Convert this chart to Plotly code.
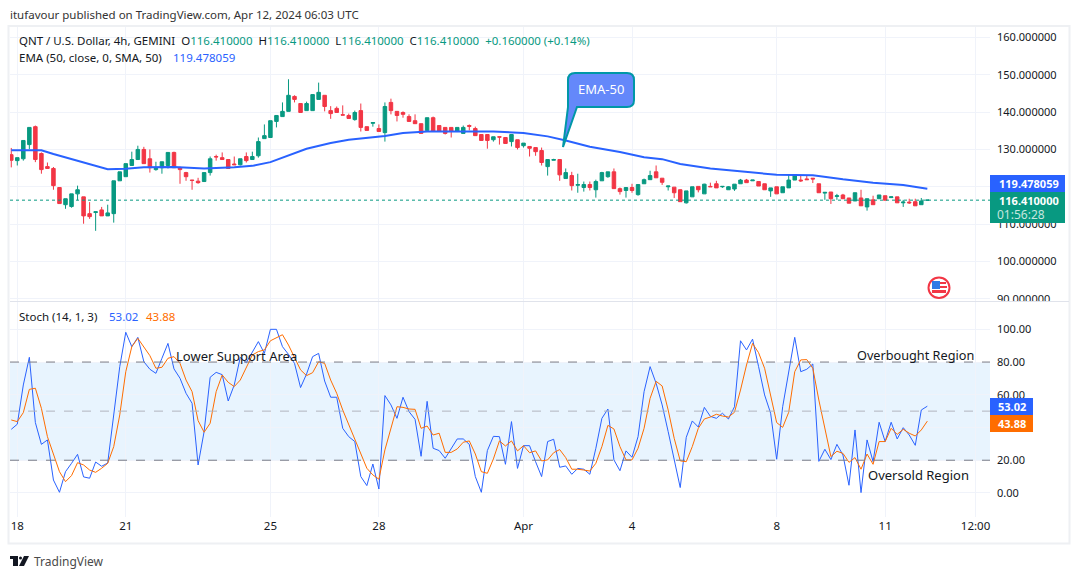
# QNT / USD 4h chart with EMA-50 and stochastic pane
import plotly.graph_objects as go
from plotly.subplots import make_subplots

W = 1080
H = 579

open_prices = [
    128.6, 127.0, 127.5, 131.3, 136.1, 128.9, 125.4, 124.9, 119.8, 115.2,
    114.7, 118.1, 117.3, 112.8, 113.1, 113.8, 112.2, 112.8, 121.6, 122.7,
    125.7, 127.3, 130.0, 127.5, 124.6, 125.1, 125.7, 129.2, 125.1, 123.8,
    121.8, 121.5, 121.4, 123.8, 128.1, 127.8, 127.3, 126.1, 125.9, 128.1,
    127.3, 128.3, 132.9, 133.2, 137.5, 138.8, 140.2, 144.2, 142.3, 140.4,
    140.4, 143.4, 144.5, 140.4, 141.0, 139.3, 139.1, 138.0, 140.4, 136.1,
    137.0, 135.6, 134.5, 142.6, 140.2, 139.9, 138.8, 137.7, 136.9, 135.1,
    138.5, 136.4, 135.9, 135.9, 134.8, 134.3, 136.4, 135.6, 134.0, 134.0,
    132.6, 133.4, 133.2, 132.1, 132.6, 131.0, 130.8, 130.5, 129.7, 125.4,
    127.1, 127.3, 122.2, 123.0, 120.4, 119.8, 120.6, 119.2, 121.6, 122.7,
    124.0, 119.5, 119.0, 119.8, 117.9, 120.8, 121.9, 124.0, 122.3, 120.0,
    119.9, 119.2, 115.7, 117.3, 120.1, 118.1, 120.1, 120.8, 120.0, 119.2,
    119.4, 120.8, 121.8, 121.6, 121.4, 120.8, 118.9, 120.0, 118.4, 119.7,
    121.8, 121.8, 122.1, 122.3, 120.8, 118.3, 118.6, 117.4, 117.8, 117.0,
    116.2, 117.0, 114.6, 116.5, 116.8, 117.6, 117.1, 117.3, 115.7, 115.9,
    116.0, 115.2, 116.41,
]
high_prices = [
    130.4, 127.8, 132.4, 135.9, 136.4, 129.2, 126.5, 125.3, 119.8, 116.8,
    118.1, 120.3, 117.3, 115.9, 113.3, 114.6, 115.2, 121.6, 124.0, 126.2,
    129.4, 131.0, 130.7, 130.0, 126.7, 126.7, 129.2, 129.4, 125.4, 124.0,
    121.8, 122.4, 123.8, 128.1, 128.6, 129.2, 127.3, 128.1, 127.5, 129.2,
    129.4, 133.2, 136.7, 137.7, 139.1, 142.6, 148.8, 144.5, 142.3, 142.8,
    144.7, 147.9, 144.5, 141.6, 141.5, 141.8, 139.6, 140.4, 142.3, 136.1,
    137.2, 136.7, 142.6, 143.6, 140.2, 140.2, 139.4, 139.4, 136.9, 138.5,
    138.8, 136.4, 135.9, 135.9, 135.9, 136.4, 136.7, 136.1, 134.0, 134.0,
    133.4, 133.4, 133.2, 134.0, 132.6, 131.7, 130.8, 130.5, 130.5, 127.3,
    127.5, 127.3, 124.9, 124.0, 123.5, 121.4, 121.4, 121.9, 124.0, 124.0,
    124.9, 119.8, 119.8, 120.8, 120.6, 122.2, 124.3, 125.7, 122.3, 120.2,
    119.9, 119.3, 118.9, 120.0, 120.1, 120.8, 121.1, 121.6, 120.1, 120.2,
    120.7, 122.1, 122.1, 121.8, 121.4, 120.8, 119.7, 120.0, 120.0, 123.4,
    123.2, 123.2, 122.9, 122.3, 120.8, 118.5, 118.6, 118.1, 118.1, 117.0,
    118.4, 119.2, 116.8, 117.6, 117.8, 117.6, 117.3, 117.3, 116.5, 116.8,
    116.8, 117.0, 116.41,
]
low_prices = [
    125.2, 125.7, 127.0, 130.1, 126.6, 123.5, 124.9, 119.2, 115.5, 114.1,
    114.4, 116.4, 110.1, 111.4, 108.2, 112.2, 112.2, 110.4, 121.6, 122.7,
    125.7, 127.3, 126.2, 123.8, 124.3, 123.5, 124.9, 125.1, 120.8, 121.6,
    119.2, 120.8, 121.4, 123.0, 127.0, 127.3, 124.9, 125.9, 125.7, 126.5,
    127.3, 127.8, 132.9, 133.2, 135.9, 138.8, 140.2, 142.6, 139.9, 140.4,
    140.4, 143.4, 140.2, 138.2, 139.9, 139.2, 138.3, 137.7, 134.8, 135.1,
    136.1, 134.8, 132.1, 139.4, 137.5, 138.5, 137.5, 136.9, 134.3, 134.8,
    134.9, 134.8, 134.0, 133.2, 134.8, 134.3, 135.1, 133.7, 132.4, 130.2,
    132.1, 131.3, 131.6, 130.8, 130.0, 130.5, 128.1, 128.3, 125.7, 123.0,
    127.1, 121.6, 122.2, 119.0, 118.4, 118.7, 119.0, 117.1, 121.6, 122.4,
    119.5, 117.9, 117.1, 118.4, 117.6, 120.8, 121.9, 122.4, 120.5, 119.0,
    117.0, 116.0, 115.5, 117.3, 118.5, 118.1, 120.0, 119.7, 119.7, 119.2,
    118.9, 120.8, 121.1, 121.6, 120.2, 119.2, 117.3, 118.1, 118.4, 119.7,
    121.8, 121.3, 121.9, 121.0, 118.4, 116.5, 115.4, 116.5, 116.8, 115.6,
    116.2, 114.9, 113.6, 115.2, 116.8, 116.4, 117.1, 115.7, 114.6, 115.4,
    114.9, 115.2, 116.41,
]
close_prices = [
    127.1, 127.8, 132.4, 135.9, 127.3, 124.6, 124.9, 120.3, 115.5, 116.8,
    118.1, 119.2, 112.2, 112.0, 113.3, 112.2, 113.0, 121.6, 124.0, 126.2,
    127.3, 130.0, 126.2, 125.1, 124.9, 126.7, 129.2, 125.1, 124.6, 122.7,
    121.7, 121.1, 123.8, 127.5, 128.0, 127.3, 124.9, 125.9, 127.5, 127.0,
    128.1, 132.1, 133.7, 137.7, 139.1, 140.2, 144.5, 143.4, 139.9, 142.3,
    144.7, 145.3, 141.5, 139.6, 139.9, 139.2, 138.3, 139.9, 135.9, 135.1,
    137.2, 134.8, 141.5, 140.4, 139.1, 139.4, 137.5, 136.9, 134.3, 138.5,
    134.9, 134.8, 134.3, 134.8, 135.9, 135.9, 136.2, 133.7, 132.4, 132.4,
    133.4, 133.3, 131.6, 134.0, 130.5, 131.7, 130.3, 129.4, 126.5, 127.3,
    127.3, 123.2, 123.8, 120.3, 120.6, 120.6, 119.8, 121.4, 123.8, 124.0,
    119.5, 118.7, 119.8, 119.0, 120.6, 121.9, 123.0, 122.4, 121.2, 120.2,
    118.4, 116.0, 118.9, 120.0, 119.2, 120.7, 120.0, 119.7, 120.1, 120.0,
    120.7, 121.8, 121.1, 121.8, 120.2, 119.2, 119.7, 118.1, 120.0, 121.8,
    123.2, 121.6, 121.9, 122.1, 118.4, 118.5, 116.8, 117.6, 116.8, 115.6,
    118.4, 114.9, 116.8, 115.2, 117.8, 116.4, 117.3, 115.7, 115.9, 115.7,
    114.9, 116.2, 116.41,
]
bars = list(range(len(close_prices)))

ema_bars = [0, 5, 7, 9, 12, 15, 16, 19, 22, 27, 32, 37, 40, 43, 46, 49, 53, 56, 62, 65,
            69, 75, 80, 85, 89, 92, 96, 101, 105, 108, 111, 116, 121, 127, 133, 138, 143, 148, 152]
ema_values = [129.8, 129.8, 128.8, 127.9, 126.4, 125.0, 124.7, 124.8, 125.2, 125.3,
              124.9, 125.2, 125.6, 126.6, 128.4, 130.2, 131.7, 132.6, 133.6, 134.4,
              134.8, 134.9, 134.8, 134.4, 133.5, 132.4, 130.7, 129.3, 127.9, 127.4,
              126.1, 124.9, 124.1, 123.2, 123.1, 122.0, 121.1, 120.5, 119.48]

stoch_k = [
    38.9, 42.0, 66.0, 82.9, 43.0, 29.7, 32.4, 7.9, 0.4, 13.0,
    18.1, 23.6, 9.8, 9.0, 18.9, 16.3, 18.3, 46.6, 77.2, 98.2,
    89.4, 95.1, 80.2, 75.6, 73.1, 82.3, 91.4, 75.8, 70.1, 60.9,
    54.8, 17.1, 37.5, 70.7, 73.7, 72.3, 56.2, 66.0, 82.9, 79.6,
    86.4, 92.5, 85.3, 100.0, 100.0, 89.4, 84.7, 79.2, 64.4, 72.7,
    83.3, 85.3, 68.4, 58.5, 58.5, 39.5, 34.4, 31.4, 10.0, 4.5,
    17.7, 2.4, 59.5, 53.8, 45.6, 58.5, 49.7, 45.0, 22.4, 56.0,
    27.3, 25.9, 21.2, 26.9, 33.0, 33.0, 29.7, 10.0, 0.4, 25.9,
    34.6, 34.4, 17.5, 43.6, 15.0, 28.9, 28.9, 19.1, 10.0, 31.4,
    32.8, 15.7, 16.5, 11.4, 15.0, 14.5, 11.4, 27.3, 45.6, 51.3,
    20.2, 13.6, 25.7, 21.8, 34.4, 61.9, 77.2, 67.0, 53.8, 37.5,
    20.2, 3.3, 34.0, 44.0, 40.3, 52.3, 46.8, 45.6, 48.7, 45.2,
    52.7, 93.0, 87.4, 94.0, 77.2, 59.9, 48.7, 20.6, 52.7, 75.2,
    95.1, 74.1, 75.6, 78.8, 19.3, 26.7, 20.4, 29.7, 23.2, 4.7,
    38.5, 0.2, 32.4, 19.1, 43.2, 31.4, 43.2, 33.0, 39.9, 35.4,
    29.1, 50.7, 53.02,
]
stoch_d = [
    44.6, 43.6, 49.1, 63.3, 64.0, 51.7, 34.4, 23.2, 13.0, 6.9,
    10.6, 18.5, 17.1, 14.0, 12.6, 15.1, 18.1, 28.3, 47.7, 74.1,
    89.4, 94.5, 88.8, 83.9, 76.2, 76.8, 82.3, 83.3, 79.2, 69.0,
    61.9, 44.2, 37.1, 42.6, 61.9, 72.1, 67.6, 65.0, 69.0, 77.2,
    84.3, 86.4, 87.4, 93.0, 95.1, 96.7, 90.4, 82.3, 75.2, 71.7,
    73.5, 80.2, 79.2, 69.0, 60.9, 50.7, 41.5, 33.4, 23.2, 15.1,
    11.0, 8.4, 26.3, 39.5, 52.7, 52.3, 51.3, 51.1, 39.5, 40.9,
    35.4, 36.5, 24.8, 24.8, 26.9, 31.0, 31.8, 23.8, 13.0, 12.0,
    20.8, 31.8, 28.7, 31.8, 25.7, 28.9, 24.6, 25.7, 19.6, 20.2,
    24.6, 26.5, 21.6, 14.5, 14.5, 14.0, 13.4, 18.1, 28.3, 41.3,
    39.1, 28.3, 20.2, 20.2, 27.3, 39.5, 57.8, 68.2, 65.4, 50.7,
    33.4, 19.6, 19.1, 28.3, 39.5, 45.2, 46.4, 48.1, 47.0, 46.4,
    49.3, 62.9, 78.2, 91.4, 85.7, 76.2, 59.9, 43.0, 40.1, 49.3,
    74.1, 81.3, 81.5, 76.2, 56.8, 39.5, 22.2, 25.5, 24.2, 18.7,
    21.6, 14.5, 23.8, 17.5, 31.4, 31.4, 39.5, 35.8, 38.9, 36.5,
    34.8, 38.5, 43.88,
]

date_ticks = [1, 19, 43, 61, 85, 103, 127, 145, 160]
date_labels = ["18", "21", "25", "28", "Apr", "4", "8", "11", "12:00"]
price_ticks = [90, 100, 110, 120, 130, 140, 150, 160]
# the 120 label sits under the axis price tags, so it stays empty
price_labels = ["90.000000", "100.000000", "110.000000", "", "130.000000", "140.000000", "150.000000", "160.000000"]
stoch_ticks = [0, 20, 40, 60, 80, 100]
stoch_labels = ["0.00", "20.00", "", "60.00", "80.00", "100.00"]

UP = "#089981"
DOWN = "#f23645"
BLUE = "#2962ff"
ORANGE = "#ff6d00"
GRID = "#f0f3fa"
INK = "#131722"
FONT = "Noto Sans"


def px(x):
    return x / W


def py(y):
    return 1 - y / H


def box(x0, y0, x1, y1, fill, line=None):
    # rectangle given in page pixels
    fig.add_shape(type="rect", xref="paper", yref="paper", x0=px(x0), x1=px(x1), y0=py(y0), y1=py(y1),
                  fillcolor=fill, line=dict(width=0 if line is None else 1, color=line or fill), layer="above")


def note(x, y, text, size=11.5, color=INK, anchor="left"):
    fig.add_annotation(xref="paper", yref="paper", x=px(x), y=py(y), text=text, showarrow=False,
                       xanchor=anchor, yanchor="middle", font=dict(family=FONT, size=size, color=color))


fig = make_subplots(rows=2, cols=1, shared_xaxes=True, vertical_spacing=0)

fig.add_trace(go.Candlestick(x=bars, open=open_prices, high=high_prices, low=low_prices, close=close_prices,
                             increasing=dict(line=dict(color=UP, width=1), fillcolor=UP),
                             decreasing=dict(line=dict(color=DOWN, width=1), fillcolor=DOWN),
                             whiskerwidth=0), row=1, col=1)
fig.add_trace(go.Scatter(x=ema_bars, y=ema_values, mode="lines", line=dict(color=BLUE, width=2)), row=1, col=1)
fig.add_trace(go.Scatter(x=bars, y=stoch_k, mode="lines", line=dict(color=BLUE, width=1)), row=2, col=1)
fig.add_trace(go.Scatter(x=bars, y=stoch_d, mode="lines", line=dict(color=ORANGE, width=1)), row=2, col=1)

# last price line and stochastic band
fig.add_hline(y=close_prices[-1], line=dict(color=UP, width=1, dash="dot"), row=1, col=1)
fig.add_hrect(y0=20, y1=80, fillcolor="rgba(33,150,243,0.1)", line_width=0, layer="below", row=2, col=1)
fig.add_hline(y=80, line=dict(color="#787b86", width=1, dash="dash"), row=2, col=1)
fig.add_hline(y=50, line=dict(color="#b2b5be", width=1, dash="dash"), row=2, col=1)
fig.add_hline(y=20, line=dict(color="#787b86", width=1, dash="dash"), row=2, col=1)

tick_font = dict(family=FONT, size=11, color=INK)
fig.update_layout(
    width=W, height=H, margin=dict(l=0, r=0, t=0, b=0),
    paper_bgcolor="white", plot_bgcolor="white", showlegend=False, boxgap=0.17,
    font=dict(family=FONT, size=12, color=INK),
    xaxis=dict(domain=[px(10), px(990)], range=[-0.21, 162.4], rangeslider=dict(visible=False), automargin=False,
               tickvals=date_ticks, ticktext=date_labels, showticklabels=False,
               showgrid=True, gridcolor=GRID, zeroline=False, showline=False),
    xaxis2=dict(domain=[px(10), px(990)], range=[-0.21, 162.4], automargin=False,
                tickvals=date_ticks, ticktext=date_labels, showticklabels=True, ticks="",
                showgrid=True, gridcolor=GRID, zeroline=False, showline=False,
                tickfont=dict(family=FONT, size=11.5, color=INK)),
    yaxis=dict(domain=[py(301), py(27)], range=[89.4, 162.8], side="right", automargin=False,
               tickvals=price_ticks, ticktext=price_labels, ticks="", ticklabelstandoff=6,
               showgrid=True, gridcolor=GRID, zeroline=False, showline=False, tickfont=tick_font),
    yaxis2=dict(domain=[py(517), py(302)], range=[-14.7, 116.7], side="right", automargin=False,
                tickvals=stoch_ticks, ticktext=stoch_labels, ticks="", ticklabelstandoff=6,
                showgrid=True, gridcolor=GRID, zeroline=False, showline=False, tickfont=tick_font),
)

# frame and pane divider
fig.add_shape(type="rect", xref="paper", yref="paper", x0=px(8.5), x1=px(1069.5), y0=py(543.5), y1=py(26),
              line=dict(color="#eef0f3", width=2), layer="above")
box(991, 302, 1068, 312, "white")
box(10, 301, 1069, 302, "#e0e3eb")

# price labels on the axis
box(990, 175, 1065, 192, BLUE)
box(990, 192, 1065, 223, UP)
note(1029, 183.5, "<b>119.478059</b>", size=11, color="white", anchor="center")
note(1029, 200.5, "<b>116.410000</b>", size=11, color="white", anchor="center")
note(1021, 214, "01:56:28", size=12, color="#c6e6df", anchor="center")
box(990, 398, 1033, 415, BLUE)
box(990, 415, 1033, 432, ORANGE)
note(1012, 406.5, "<b>53.02</b>", size=11, color="white", anchor="center")
note(1012, 423.5, "<b>43.88</b>", size=11, color="white", anchor="center")

# header and legend text
note(8, 15, "itufavour published on TradingView.com, Apr 12, 2024 06:03 UTC", color="#333333")
note(17, 41, "QNT / U.S. Dollar, 4h, GEMINI  O<span style='color:#089981'>116.410000</span>  "
             "H<span style='color:#089981'>116.410000</span>  L<span style='color:#089981'>116.410000</span>  "
             "C<span style='color:#089981'>116.410000</span>  <span style='color:#089981'>+0.160000 (+0.14%)</span>")
note(17, 58, "EMA (50, close, 0, SMA, 50)")
note(171, 58, "119.478059", color=BLUE)
note(17, 316, "Stoch (14, 1, 3)")
note(107, 316, "53.02", color=BLUE)
note(144, 316, "43.88", color=ORANGE)

# drawing labels
note(174, 356, "Lower Support Area", size=13)
note(855, 355, "Overbought Region", size=12.7)
note(866, 475, "Oversold Region", size=13)

# EMA-50 callout
callout = ("M {} {} L {} {} Q {} {} {} {} L {} {} Q {} {} {} {} L {} {} L {} {} L {} {} "
           "L {} {} Q {} {} {} {} Z").format(
    px(575), py(73), px(627), py(73), px(634), py(73), px(634), py(80), px(634), py(100),
    px(634), py(107), px(627), py(107), px(577), py(107), px(563), py(147), px(568), py(107),
    px(568), py(80), px(568), py(73), px(575), py(73))
fig.add_shape(type="path", xref="paper", yref="paper", path=callout, fillcolor="#6488fa",
              line=dict(color="#0097a7", width=2), layer="above")
note(601, 89, "EMA-50", size=13, color="white", anchor="center")

# US flag badge
fig.add_shape(type="circle", xref="paper", yref="paper", x0=px(928.5), x1=px(949.5), y0=py(298), y1=py(277.5),
              fillcolor="white", line=dict(color="#f23645", width=2), layer="above")
box(932, 281, 940, 289, "#2e7be6")
box(940, 282, 946, 284, "#f23645")
box(940, 286, 947, 288, "#f23645")
box(932, 290, 946, 293, "#f23645")

# TradingView mark and name
box(10, 556, 18, 559, "#131722")
box(13, 559, 18, 566, "#131722")
fig.add_shape(type="circle", xref="paper", yref="paper", x0=px(19), x1=px(22), y0=py(559.5), y1=py(556.5),
              fillcolor="#131722", line=dict(width=0), layer="above")
fig.add_shape(type="path", xref="paper", yref="paper", layer="above", fillcolor="#131722", line=dict(width=0),
              path="M {} {} L {} {} L {} {} L {} {} Z".format(px(24), py(556), px(29), py(556), px(24), py(566), px(19), py(566)))
note(32, 561, "TradingView", size=12, color="#4a4a4a")

fig.write_html("out.html", config=dict(displayModeBar=False), post_script="document.body.style.margin='0';")
